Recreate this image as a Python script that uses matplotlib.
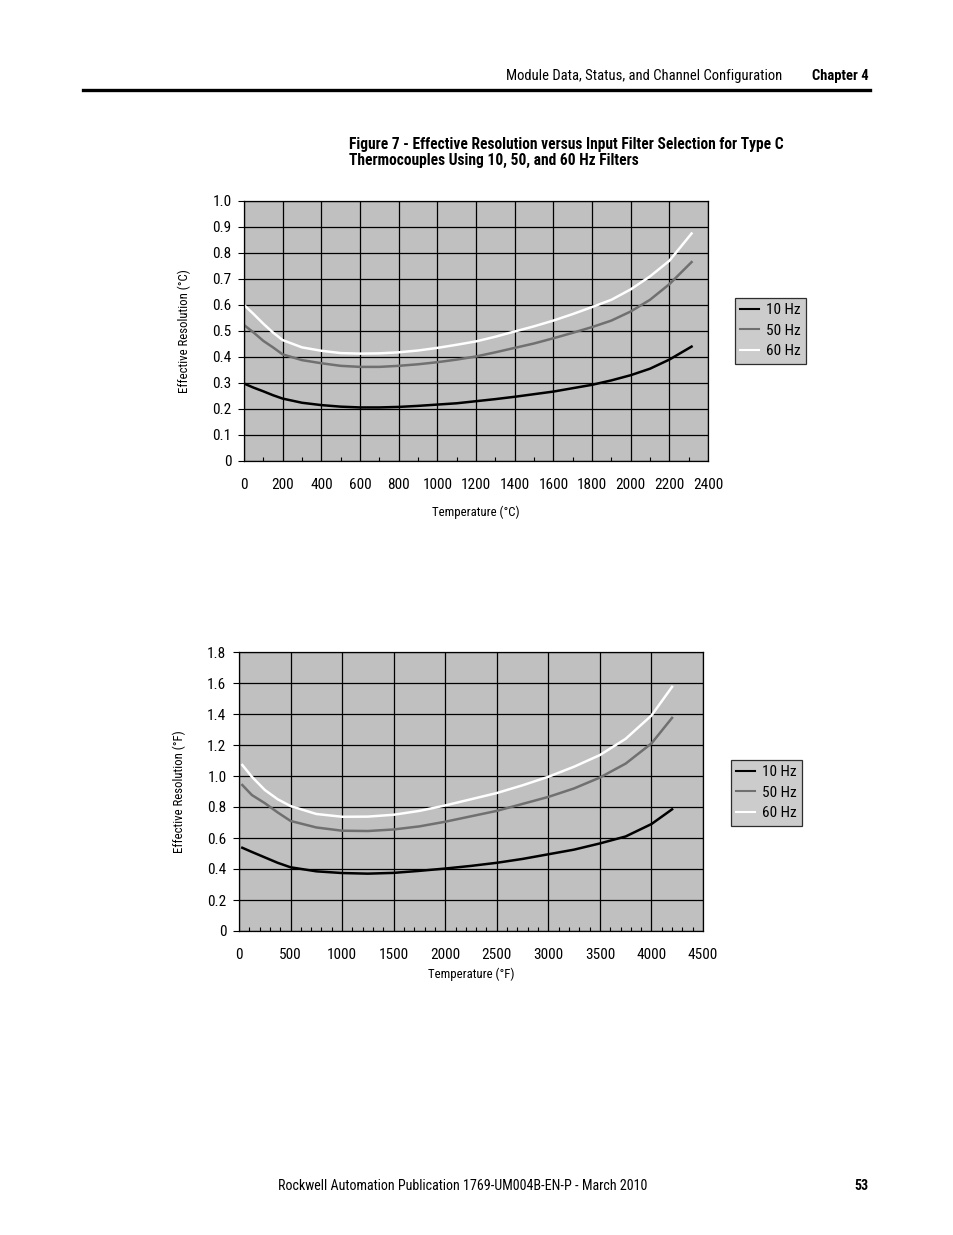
import matplotlib
matplotlib.use("Agg")
import matplotlib.pyplot as plt
from matplotlib.lines import Line2D
from matplotlib.ticker import MultipleLocator

plt.rcParams['font.family'] = ['Roboto Condensed', 'Liberation Sans Narrow', 'Roboto', 'DejaVu Sans']

W, H = 954, 1235

# --- data, degrees C ---
temp_c = [0, 50, 100, 150, 200, 300, 400, 500, 600, 700, 800, 900, 1000, 1100, 1200,
          1300, 1400, 1500, 1600, 1700, 1800, 1900, 2000, 2100, 2200, 2315]
res_c_10 = [0.298, 0.282, 0.268, 0.253, 0.240, 0.224, 0.215, 0.209, 0.206, 0.206,
            0.208, 0.212, 0.217, 0.222, 0.230, 0.238, 0.247, 0.257, 0.267, 0.280,
            0.293, 0.310, 0.330, 0.355, 0.390, 0.440]
res_c_50 = [0.523, 0.494, 0.462, 0.437, 0.410, 0.388, 0.376, 0.366, 0.362, 0.362,
            0.366, 0.372, 0.380, 0.390, 0.402, 0.418, 0.435, 0.452, 0.472, 0.493,
            0.515, 0.540, 0.575, 0.620, 0.680, 0.765]
res_c_60 = [0.600, 0.565, 0.528, 0.494, 0.465, 0.437, 0.424, 0.415, 0.413, 0.414,
            0.418, 0.425, 0.435, 0.447, 0.460, 0.478, 0.498, 0.518, 0.540, 0.565,
            0.592, 0.620, 0.660, 0.710, 0.770, 0.875]
yticks_c = [0, 0.1, 0.2, 0.3, 0.4, 0.5, 0.6, 0.7, 0.8, 0.9, 1.0]
ylabels_c = ['0', '0.1', '0.2', '0.3', '0.4', '0.5', '0.6', '0.7', '0.8', '0.9', '1.0']

# --- data, degrees F ---
temp_f = [32, 125, 250, 375, 500, 750, 1000, 1250, 1500, 1750, 2000, 2250, 2500, 2750,
          3000, 3250, 3500, 3750, 4000, 4200]
res_f_10 = [0.537, 0.510, 0.475, 0.440, 0.411, 0.385, 0.374, 0.370, 0.375, 0.388,
            0.403, 0.420, 0.440, 0.465, 0.495, 0.525, 0.565, 0.610, 0.690, 0.785]
res_f_50 = [0.942, 0.877, 0.825, 0.765, 0.710, 0.668, 0.647, 0.645, 0.655, 0.675,
            0.705, 0.740, 0.775, 0.820, 0.865, 0.920, 0.990, 1.080, 1.210, 1.375]
res_f_60 = [1.071, 0.995, 0.910, 0.850, 0.806, 0.755, 0.737, 0.738, 0.750, 0.775,
            0.810, 0.850, 0.890, 0.940, 0.995, 1.060, 1.135, 1.240, 1.390, 1.575]
yticks_f = [0, 0.2, 0.4, 0.6, 0.8, 1.0, 1.2, 1.4, 1.6, 1.8]
ylabels_f = ['0', '0.2', '0.4', '0.6', '0.8', '1.0', '1.2', '1.4', '1.6', '1.8']

filters = ['10 Hz', '50 Hz', '60 Hz']
colors = ['#000000', '#707070', '#ffffff']

fig = plt.figure(figsize=(W / 100, H / 100), dpi=100)


def fx(px):
    return px / W


def fy(py):
    return 1 - py / H


def make_chart(rect, xs, series, xmax, xstep, yticks, ylabels, xlabel, ylabel,
               leg_xy, xlab_pad, ylab_pad):
    ax = fig.add_axes(rect)
    ax.set_facecolor('#c0c0c0')
    for ys, name, c in zip(series, filters, colors):
        ax.plot(xs, ys, color=c, lw=1.8, label=name, solid_joinstyle='round')
    ax.set_xlim(0, xmax)
    ax.set_ylim(yticks[0], yticks[-1])
    ax.xaxis.set_major_locator(MultipleLocator(xstep))
    ax.xaxis.set_minor_locator(MultipleLocator(100))
    ax.set_yticks(yticks)
    ax.set_yticklabels(ylabels)
    ax.grid(True, which='major', color='black', lw=0.9)
    ax.set_axisbelow(True)
    for s in ax.spines.values():
        s.set_color('black')
        s.set_linewidth(0.9)
    ax.tick_params(axis='x', which='major', length=0, labelsize=11, pad=12)
    ax.tick_params(axis='x', which='minor', direction='in', length=3, width=0.8)
    ax.tick_params(axis='y', which='major', direction='out', length=4,
                   labelsize=11, pad=5)
    ax.set_xlabel(xlabel, fontsize=9.2, labelpad=xlab_pad)
    ax.set_ylabel(ylabel, fontsize=9.2, labelpad=ylab_pad)
    leg = fig.legend(*ax.get_legend_handles_labels(), loc='upper left',
                     bbox_to_anchor=leg_xy, fontsize=11, frameon=True,
                     fancybox=False, facecolor='#c0c0c0', edgecolor='black',
                     handlelength=1.25, handletextpad=0.4, borderpad=0.35,
                     labelspacing=0.42, borderaxespad=0)
    leg.get_frame().set_linewidth(0.9)
    for ln in leg.get_lines():
        ln.set_linewidth(1.5)
    return ax


make_chart([fx(244), fy(461), fx(708) - fx(244), fy(201) - fy(461)],
           temp_c, [res_c_10, res_c_50, res_c_60], 2400, 200, yticks_c, ylabels_c,
           'Temperature (°C)', 'Effective Resolution (°C)',
           (fx(735), fy(298)), 10, 15)

make_chart([fx(239), fy(931), fx(703) - fx(239), fy(652) - fy(931)],
           temp_f, [res_f_10, res_f_50, res_f_60], 4500, 500, yticks_f, ylabels_f,
           'Temperature (°F)', 'Effective Resolution (°F)',
           (fx(731), fy(760)), 4, 15)

# page header / footer
fig.text(fx(782), fy(76), 'Module Data, Status, and Channel Configuration',
         ha='right', va='center', fontsize=10.5)
fig.text(fx(869), fy(76), 'Chapter 4', ha='right', va='center', fontsize=10.5,
         fontweight='bold')
fig.add_artist(Line2D([fx(83), fx(870)], [fy(90), fy(90)], color='black', lw=2.4))

fig.text(fx(349), fy(144.5), 'Figure 7 - Effective Resolution versus Input Filter Selection for Type C',
         ha='left', va='center', fontsize=11.2, fontweight='bold')
fig.text(fx(349), fy(160.5), 'Thermocouples Using 10, 50, and 60 Hz Filters',
         ha='left', va='center', fontsize=11.2, fontweight='bold')

fig.text(fx(647), fy(1186), 'Rockwell Automation Publication 1769-UM004B-EN-P - March 2010',
         ha='right', va='center', fontsize=10.1)
fig.text(fx(869), fy(1186), '53', ha='right', va='center', fontsize=10.1,
         fontweight='bold')

fig.savefig('out.png', dpi=100)
